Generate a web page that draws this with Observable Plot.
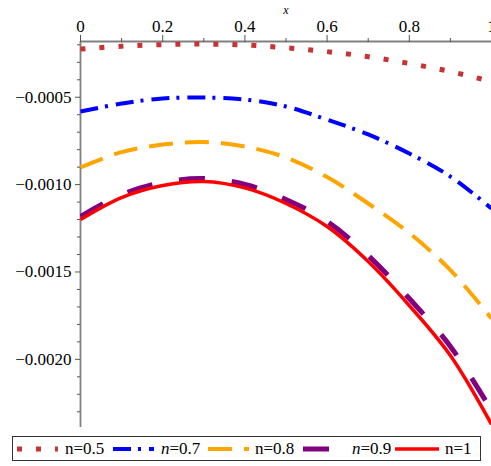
<!DOCTYPE html>
<html>
<head>
<meta charset="utf-8">
<script src="https://cdn.jsdelivr.net/npm/d3@7"></script>
<script src="https://cdn.jsdelivr.net/npm/@observablehq/plot@0.6"></script>
<style>
  body { margin: 0; background: #fff; }
  #wrap { position: relative; width: 491px; height: 466px; overflow: hidden; background: #fff; }
  #legend { position: absolute; left: 12px; top: 436px; width: 467px; height: 23px;
            border: 1.5px solid #333; font-family: "Liberation Serif", "Times New Roman", serif; font-size: 17px; color: #000; }
  #chart svg, #chart svg text { font-family: "Liberation Serif", "Times New Roman", serif !important; }
  .sw { position: absolute; top: 0; }
  .lab { position: absolute; top: 1px; line-height: 21px; white-space: nowrap; }
  g[aria-label="x-axis label"] text { font-style: italic; font-size: 12px; }
</style>
</head>
<body>
<div id="wrap"><div id="chart"></div><div id="legend"></div></div>
<script>
// ---- data ----
const xs  = [0, 0.1, 0.2, 0.3, 0.4, 0.5, 0.6, 0.7, 0.8, 0.9, 1.0];
const n05 = [-0.000224, -0.000208, -0.000199, -0.000196, -0.000201, -0.000217, -0.000239, -0.000268, -0.000307, -0.000353, -0.000410];
const n07 = [-0.000582, -0.000536, -0.000507, -0.000502, -0.000513, -0.000553, -0.000628, -0.000713, -0.000822, -0.000954, -0.001137];
const n08 = [-0.000902, -0.000814, -0.000771, -0.000756, -0.000782, -0.000845, -0.000957, -0.001108, -0.001277, -0.001489, -0.001766];
const n09 = [-0.001183, -0.001057, -0.000988, -0.000965, -0.000999, -0.001085, -0.001211, -0.001406, -0.001652, -0.001926, -0.002292];
const n10 = [-0.001200, -0.001074, -0.001005, -0.000982, -0.001019, -0.001108, -0.001240, -0.001440, -0.001692, -0.001978, -0.002372];
const seriesNames = ["n=0.5", "n=0.7", "n=0.8", "n=0.9", "n=1"];
const xTicks = [0, 0.2, 0.4, 0.6, 0.8, 1];
const xMinor = [0.1, 0.3, 0.5, 0.7, 0.9];
const yTicks = [-0.0005, -0.0010, -0.0015, -0.0020];
const yMinor = [-0.0002, -0.0003, -0.0004, -0.0006, -0.0007, -0.0008, -0.0009, -0.0011, -0.0012, -0.0013, -0.0014,
                -0.0016, -0.0017, -0.0018, -0.0019, -0.0021, -0.0022, -0.0023];
const yDomain = [-0.00239, -0.000181];

// ---- styles ----
const styles = [
  {color: "#c83232", width: 5,   dash: "5,14",      italic: false},
  {color: "#0000ff", width: 4,   dash: "18,7,3,8",  italic: true},
  {color: "#ffa500", width: 4,   dash: "24,12",     italic: false},
  {color: "#800080", width: 5,   dash: "26,27",     italic: true},
  {color: "#ff0000", width: 3.5, dash: null,        italic: false}
];

const allSeries = [n05, n07, n08, n09, n10];
const rows = [];
allSeries.forEach((vals, i) => vals.forEach((v, j) => rows.push({s: seriesNames[i], x: xs[j], y: v})));

const lineMarks = seriesNames.map((name, i) => Plot.line(rows.filter(d => d.s === name), {
  x: "x", y: "y", stroke: styles[i].color, strokeWidth: styles[i].width,
  strokeDasharray: styles[i].dash || undefined, strokeLinecap: "butt",
  curve: "catmull-rom", clip: true
}));

const serif = "'Liberation Serif', 'Times New Roman', serif";
const chart = Plot.plot({
  width: 491, height: 432,
  marginLeft: 80, marginRight: 0, marginTop: 41, marginBottom: 5,
  style: {fontFamily: serif, fontSize: "17px", color: "#000", background: "#fff"},
  x: {domain: [0, 1]},
  y: {domain: yDomain},
  marks: [
    Plot.ruleX([0], {stroke: "#808080", strokeWidth: 1.8}),
    Plot.ruleY([yDomain[1]], {stroke: "#808080", strokeWidth: 1.8}),
    Plot.axisX({anchor: "top", ticks: xTicks, tickSize: 7, tickPadding: 3, tickFormat: d => String(d),
                stroke: "#555", fontSize: 17, fontFamily: serif,
                label: "x", labelAnchor: "center", labelArrow: "none", labelOffset: 36}),
    Plot.axisX({anchor: "top", ticks: xMinor, tickSize: 4, tickFormat: () => "", stroke: "#555", label: null}),
    Plot.axisY({anchor: "left", ticks: yTicks, tickSize: 5, tickPadding: 4, tickFormat: d3.format(".4f"),
                stroke: "#555", fontSize: 17, fontFamily: serif, label: null}),
    Plot.axisY({anchor: "left", ticks: yMinor, tickSize: 3, tickFormat: () => "", stroke: "#555", label: null}),
    ...lineMarks
  ]
});
document.getElementById("chart").appendChild(chart);

// ---- legend ----
const legend = document.getElementById("legend");
const swLeft  = [4, 100, 195, 290, 382];
const swWidth = [41, 41, 41, 28, 44];
const labLeft = [52, 148, 242, 339, 432];
seriesNames.forEach((name, i) => {
  const st = styles[i];
  const svgNS = "http://www.w3.org/2000/svg";
  const svg = document.createElementNS(svgNS, "svg");
  svg.setAttribute("class", "sw");
  svg.setAttribute("width", swWidth[i]);
  svg.setAttribute("height", 23);
  svg.style.left = swLeft[i] + "px";
  const ln = document.createElementNS(svgNS, "line");
  ln.setAttribute("x1", 0); ln.setAttribute("x2", swWidth[i]);
  ln.setAttribute("y1", 12); ln.setAttribute("y2", 12);
  ln.setAttribute("stroke", st.color);
  ln.setAttribute("stroke-width", st.width);
  if (st.dash) ln.setAttribute("stroke-dasharray", st.dash);
  svg.appendChild(ln);
  legend.appendChild(svg);
  const lab = document.createElement("div");
  lab.className = "lab";
  lab.style.left = labLeft[i] + "px";
  if (st.italic) lab.innerHTML = "<i>n</i>" + name.slice(1);
  else lab.textContent = name;
  legend.appendChild(lab);
});
</script>
</body>
</html>
